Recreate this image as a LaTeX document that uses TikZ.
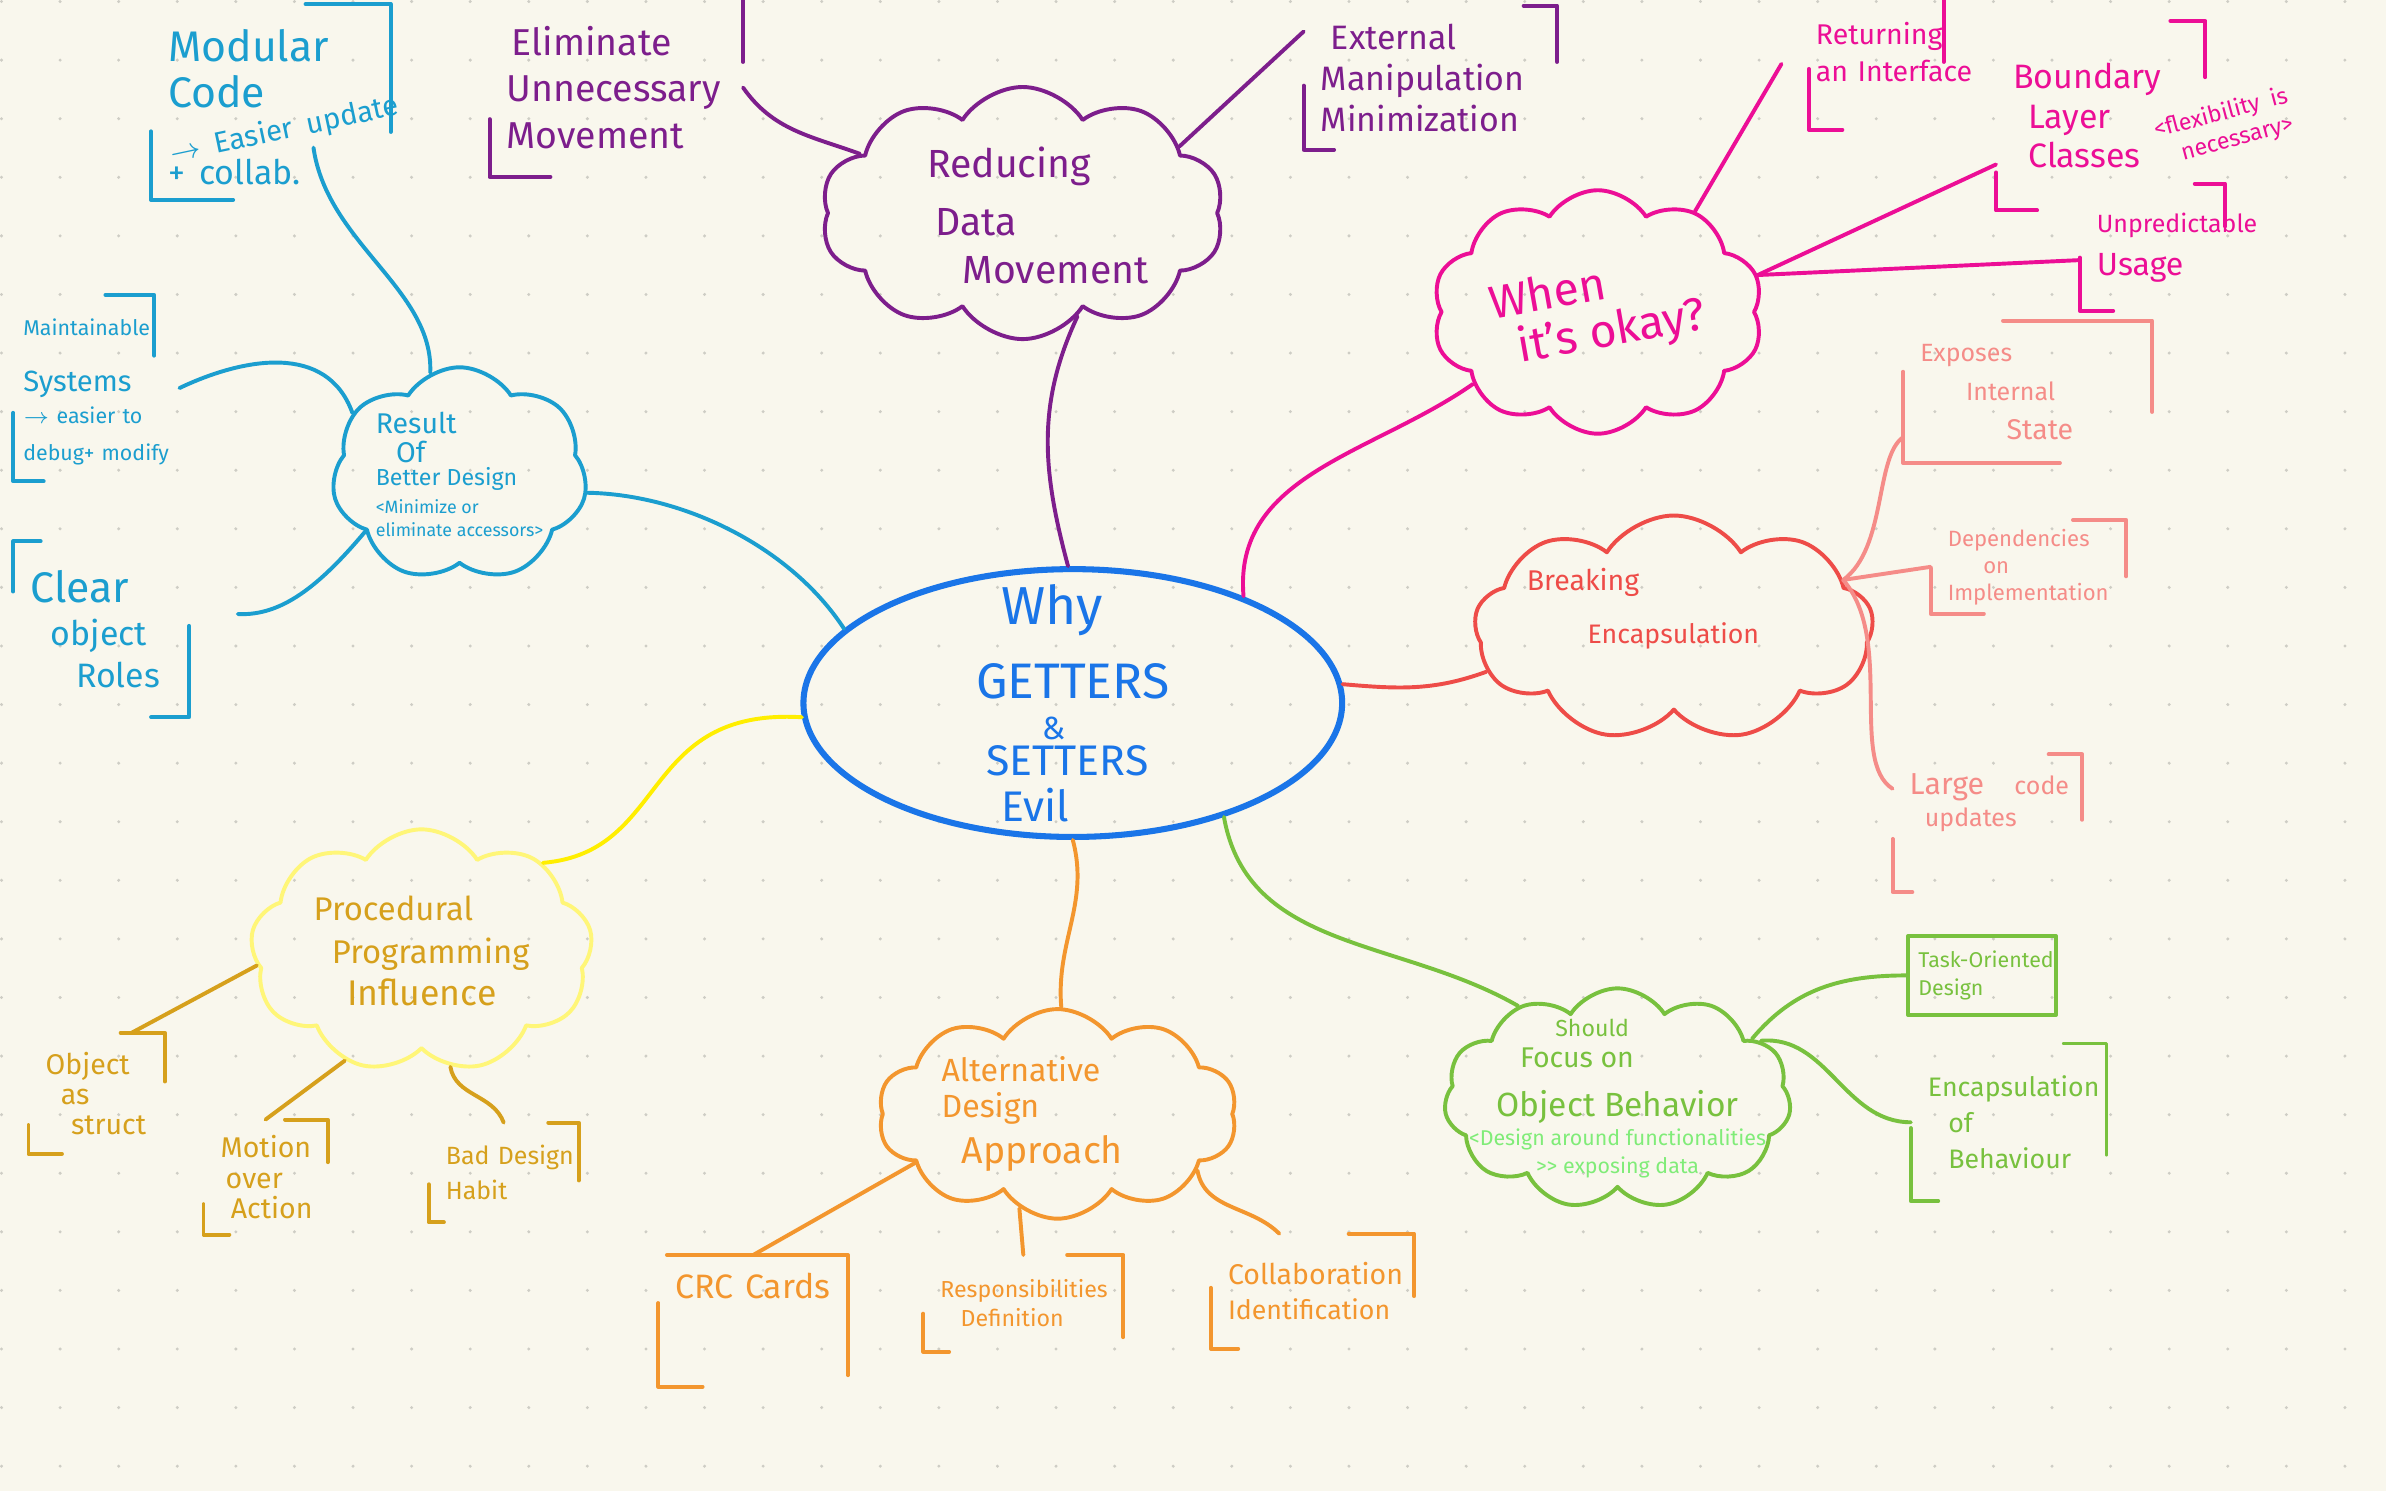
\documentclass[tikz,border=0pt]{standalone}
\usepackage{fontspec}
\setmainfont{Fira Sans}
\usetikzlibrary{shapes.symbols,shapes.geometric,calc}
\definecolor{bgcream}{RGB}{249,247,237}
\definecolor{dotgray}{RGB}{206,205,197}
\definecolor{whyblue}{RGB}{26,117,232}
\definecolor{purp}{RGB}{125,30,140}
\definecolor{magen}{RGB}{236,14,150}
\definecolor{redc}{RGB}{238,76,72}
\definecolor{salmon}{RGB}{245,140,136}
\definecolor{cyanb}{RGB}{27,158,207}
\definecolor{yellowl}{RGB}{255,246,120}
\definecolor{yellowb}{RGB}{255,238,0}
\definecolor{goldt}{RGB}{214,160,28}
\definecolor{orng}{RGB}{243,150,46}
\definecolor{grn}{RGB}{120,193,62}
\definecolor{lgrn}{RGB}{128,236,120}
\newcommand{\setfz}[2]{\fontsize{#1}{#2}\selectfont}
\newcommand{\pxu}{0.15mm}
\tikzset{
  bubble/.style={cloud, draw=#1, text=#1, cloud puffs=10, cloud puff arc=115, cloud ignores aspect, align=left, inner sep=0pt},
  leaf/.style={text=#1, align=left, inner xsep=1.5mm, inner ysep=0pt,
    execute at begin node={\hyphenpenalty=10000\exhyphenpenalty=10000}},
  corners/.style n args={5}{append after command={
      ([xshift=-#2*\pxu]\tikzlastnode.north east) edge[draw=#1, to path={-| (\tikztotarget)}] ([yshift=-#3*\pxu]\tikzlastnode.north east)
      ([yshift=#4*\pxu]\tikzlastnode.south west) edge[draw=#1, to path={|- (\tikztotarget)}] ([xshift=#5*\pxu]\tikzlastnode.south west)}},
  flipcorners/.style n args={5}{append after command={
      ([yshift=-#2*\pxu]\tikzlastnode.north west) edge[draw=#1, to path={|- (\tikztotarget)}] ([xshift=#3*\pxu]\tikzlastnode.north west)
      ([xshift=-#4*\pxu]\tikzlastnode.south east) edge[draw=#1, to path={-| (\tikztotarget)}] ([yshift=#5*\pxu]\tikzlastnode.south east)}},
}
\begin{document}
\begin{tikzpicture}[x=0.15mm, y=-0.15mm, line width=1.1pt, line cap=round, line join=round]
\fill[bgcream] (0,0) rectangle (1568,980);
\useasboundingbox (0,0) rectangle (1568,980);
\foreach \i in {0,...,40}
  \foreach \j in {0,...,25}
    \fill[dotgray] (\i*38.5+1,\j*38.5+1) circle[radius=1.1];

\node[ellipse, draw=whyblue, line width=1.7pt, text=whyblue, minimum width=53.1mm, minimum height=26.4mm, align=left, inner xsep=0pt, inner ysep=-5mm, font=\setfz{12}{10}] (why) at (705,462)
  {\setfz{15}{17}\hspace*{2.5mm}Why\\[2.4mm] \setfz{14}{15}GETTERS\\[0.5mm] \setfz{9}{9}\hspace*{6.5mm}\&\\ \setfz{12}{13}\hspace*{1mm}SETTERS\\[1mm] \setfz{12}{14}\hspace*{2.5mm}Evil};

\node[bubble=purp, font=\setfz{11}{13.5}, minimum width=39.75mm, minimum height=23.7mm] (reduce) at (672,140) {\mbox{}\\[-3.5pt] \hspace*{3mm}Reducing\\[1mm] \hspace*{3.8mm}Data\\ \hspace*{6.5mm}Movement};
\node[bubble=magen, minimum width=32.25mm, minimum height=24mm] (okay) at (1050,205) {\rotatebox{10}{\setfz{13}{13}\shortstack[l]{When\\ \hspace*{2mm}it's okay?}}};
\node[bubble=redc, cloud puffs=9, font=\setfz{8}{15}, inner xsep=-2.5mm, minimum width=39.3mm, minimum height=21.75mm] (breaking) at (1100,413) {Breaking\\ \setfz{7.5}{15}\makebox[29mm][l]{\hspace*{6mm}Encapsulation}\\[-2.2pt]\mbox{}};
\node[bubble=cyanb, cloud puffs=7, font=\setfz{8}{6.5}, minimum width=22.5mm, minimum height=20.55mm] (result) at (302,312) {Result\\[0.5mm] \hspace*{2mm}Of\\ \setfz{6.5}{7}Better Design\\[0.5mm] \setfz{5}{6}<Minimize or\\ \setfz{5}{6}eliminate accessors>};
\node[bubble=yellowl, text=goldt, cloud puffs=9, font=\setfz{9.2}{12}, minimum width=33.75mm, minimum height=24mm] (proc) at (277,625) {Procedural\\ \hspace*{1.8mm}Programming\\ \setfz{10}{12}\hspace*{3.3mm}Influence};
\node[bubble=orng, font=\setfz{9}{10}, minimum width=35.4mm, minimum height=19.2mm] (alt) at (695,732) {Alternative\\ Design\\[1mm] \setfz{10.5}{12}\hspace*{2mm}Approach\hspace*{5mm}};
\node[bubble=grn, cloud puffs=11, align=center, font=\setfz{8}{8}, inner xsep=-5mm, inner ysep=-2.5mm, minimum width=34.2mm, minimum height=21.75mm] (behav) at (1063,722) {\setfz{6.5}{8}Should\hspace*{5mm}\mbox{}\\[0.3mm] Focus on\hspace*{8mm}\mbox{}\\[2mm] \setfz{9.4}{11}Object Behavior\\ \color{lgrn}\setfz{6}{7}<Design around functionalities\\ \color{lgrn}\setfz{6}{7}>\kern0pt> exposing data};

\node[leaf=purp, font=\setfz{10.5}{13}, text width=21.6mm, minimum height=17.25mm, corners={purp}{32}{42}{38}{40}] (elim) at (405,57.5) {\hspace*{0.5mm}Eliminate\\ Unnecessary\\ Movement};
\node[leaf=purp, font=\setfz{9.5}{11.5}, text width=21.6mm, minimum height=13.8mm, corners={purp}{22}{37}{42}{20}] (extman) at (940,51) {\hspace*{1mm}External\\ Manipulation\\ Minimization};

\node[leaf=magen, font=\setfz{8}{10.5}, inner xsep=0.5mm, text width=11.9mm, minimum height=12.6mm, corners={magen}{23}{42}{40}{22}] (iface) at (1233,42) {Returning\\ an~Interface\\[-3.7pt]\mbox{}};
\node[leaf=magen, font=\setfz{9.5}{11}, text width=17.25mm, minimum height=18.3mm, corners={magen}{23}{37}{25}{27}] (boundary) at (1380.5,76) {Boundary\\ \hspace*{1.5mm}Layer\\ \hspace*{1.5mm}Classes~\smash{\raisebox{0.2mm}{\rotatebox{15}{\setfz{6.5}{7.5}\shortstack[l]{<flexibility is\\ \hspace*{2mm}necessary>}}}}};
\node[leaf=magen, font=\setfz{7}{12}, text width=10.95mm, minimum height=12.15mm, corners={magen}{20}{28}{35}{22}] (unpred) at (1414.5,162.5) {Unpredictable\\ \setfz{9}{11}Usage};

\node[leaf=salmon, font=\setfz{7}{11}, text width=21.15mm, minimum height=13.65mm, corners={salmon}{98}{60}{60}{103}] (exposes) at (1332.5,257.5) {Exposes\\ \hspace*{4.5mm}Internal\\ \setfz{8}{11}\hspace*{8.5mm}State};
\node[leaf=salmon, font=\setfz{6.2}{7.6}, text width=15.9mm, minimum height=8.85mm, corners={salmon}{35}{37}{30}{35}] (depend) at (1333,372.5) {Dependencies\\ \hspace*{3.5mm}on\\ Implementation};
\node[leaf=salmon, font=\setfz{8.5}{10}, text width=15.3mm, minimum height=13.2mm, corners={salmon}{22}{43}{35}{13}] (largecode) at (1306,541) {\mbox{Large\hspace{3mm}\setfz{7}{10}code}\\ \setfz{7}{9}\hspace*{1.5mm}updates\\[1mm]\mbox{}};

\node[leaf=cyanb, font=\setfz{12}{12.8}, text width=20.25mm, minimum height=18.9mm, corners={cyanb}{56}{84}{45}{54}] (modular) at (178,67) {\mbox{}\\[-1pt] Modular\\ Code\\[1mm] \setfz{8.2}{12.8}\smash{\rotatebox{12}{$\rightarrow$~Easier~update}}\\[-2.4mm] \setfz{9.5}{12.8}+~collab.};
\node[leaf=cyanb, font=\setfz{6}{7.5}, inner xsep=0.8mm, text width=11.9mm, minimum height=18mm, corners={cyanb}{32}{40}{45}{20}] (maint) at (55,255) {\mbox{}\\[-0.7pt] Maintainable\\[2mm] \setfz{8.2}{10}Systems\\[0.5mm] \setfz{6}{7.5}$\rightarrow$~easier~to\\[1mm] debug+~modify};
\node[leaf=cyanb, font=\setfz{9.5}{12}, text width=13.95mm, minimum height=16.95mm, flipcorners={cyanb}{33}{18}{25}{60}] (clear) at (66.5,413.5) {\setfz{12}{13}Clear\\ \setfz{9.5}{12}\hspace*{2mm}object\\ \hspace*{4.5mm}Roles};

\node[leaf=goldt, font=\setfz{8}{8.5}, text width=10.05mm, minimum height=11.55mm, corners={goldt}{29}{32}{19}{22}] (objstruct) at (63.5,718.5) {Object\\ \hspace*{1.5mm}as\\ \hspace*{2.5mm}struct};
\node[leaf=goldt, font=\setfz{8}{8.5}, text width=8.85mm, minimum height=10.95mm, corners={goldt}{28}{28}{20}{17}] (motion) at (174.5,773.5) {Motion\\ \hspace*{0.5mm}over\\ \hspace*{1mm}Action};
\node[leaf=goldt, font=\setfz{7}{10}, text width=11.4mm, minimum height=9.45mm, corners={goldt}{20}{38}{25}{10}] (badhabit) at (331,770.5) {Bad~Design\\ Habit};

\node[leaf=orng, font=\setfz{9.5}{11}, text width=15.3mm, minimum height=12.6mm, corners={orng}{119}{79}{55}{29}] (crc) at (495,868) {CRC~Cards\\[3mm]\mbox{}};
\node[leaf=orng, font=\setfz{6.5}{8}, text width=16.35mm, minimum height=9.15mm, corners={orng}{37}{54}{25}{17}] (resp) at (672.5,856.5) {Responsibilities\\ \hspace*{2mm}Definition};
\node[leaf=orng, font=\setfz{8}{10}, text width=16.65mm, minimum height=10.95mm, corners={orng}{43}{41}{40}{18}] (collab) at (862.5,848.5) {Collaboration\\ \setfz{7.5}{10}Identification};

\node[leaf=grn, draw=grn, font=\setfz{6}{8}, inner xsep=1mm, text width=12.55mm, minimum height=7.8mm] (task) at (1302.5,641) {\mbox{Task-Oriented}\\ Design};
\node[leaf=grn, font=\setfz{7.5}{10}, text width=15.9mm, minimum height=15.15mm, corners={grn}{28}{73}{48}{18}] (encbeh) at (1320,737.5) {Encapsulation\\ \hspace*{2mm}of\\ \hspace*{2mm}Behaviour};

\draw[purp] (reduce.-62) to[out=-115,in=105] (why.92);
\draw[purp] (elim.east) to[out=-55,in=160] (reduce.160);
\draw[purp] (reduce.23) -- (extman.160);

\draw[magen] (why.32) to[out=95,in=215] (okay.210);
\draw[magen] (okay.46) -- ([xshift=-2.7mm]iface.west);
\draw[magen] (okay.13) -- (boundary.205);
\draw[magen] (okay.13) -- (unpred.190);

\draw[redc] (why.4) to[out=-5,in=200] (breaking.193);
\draw[salmon] (breaking.16) .. controls (1240,360) and (1232,300) .. (exposes.200);
\draw[salmon] (breaking.16) -- (depend.west);
\draw[salmon] (breaking.16) .. controls (1245,420) and (1215,500) .. (largecode.160);

\draw[cyanb] (result.-8) .. controls (450,325) and (520,360) .. (why.162);
\draw[cyanb] (result.106) .. controls (285,190) and (215,160) .. ($(modular.center)+(28,30)$);
\draw[cyanb] (result.150) .. controls (215,225) and (160,235) .. ([xshift=2.5mm]maint.east);
\draw[cyanb] (result.211) .. controls (210,385) and (185,405) .. ([xshift=4.8mm,yshift=1.5mm]clear.east);

\draw[yellowb] (why.183) .. controls (420,465) and (440,560) .. (proc.36);
\draw[goldt] (proc.185) -- (objstruct.60);
\draw[goldt] (proc.235) -- (motion.north);
\draw[goldt] (proc.-76) to[out=-80,in=110] (badhabit.north);

\draw[orng] (why.south) to[out=-75,in=95] (alt.88);
\draw[orng] (alt.199) -- (crc.north);
\draw[orng] (alt.248) -- (resp.north);
\draw[orng] (alt.-22) to[out=-80,in=135] (collab.120);

\draw[grn] (why.-37) to[out=-80,in=150] (behav.137);
\draw[grn] (behav.24) to[out=50,in=180] (task.west);
\draw[grn] (behav.22) to[out=5,in=180] (encbeh.west);
\end{tikzpicture}
\end{document}
